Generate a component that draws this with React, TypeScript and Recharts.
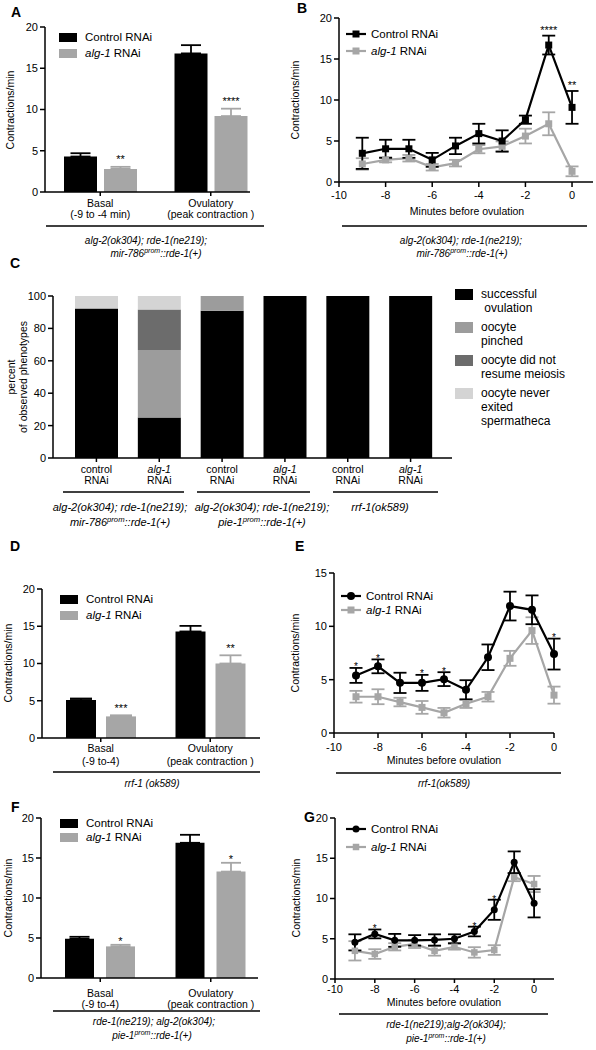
import React from 'react';
import { BarChart, Bar, LineChart, Line, XAxis, YAxis, ErrorBar, LabelList, Legend } from 'recharts';

const FONT = '"Liberation Sans", Arial, Helvetica, sans-serif';
const BLACK = '#000000';
const GRAY = '#a6a6a6';
const AXIS = { stroke: BLACK, strokeWidth: 1.5 };

const seriesNames = ['Control RNAi', 'alg-1 RNAi'];

// A: contraction rate, alg-2; rde-1; mir-786 rescue
const aCategories = ['Basal\n(-9 to -4 min)', 'Ovulatory\n(peak contraction )'];
const aControl = [4.3, 16.8];
const aControlSem = [0.4, 1.0];
const aAlg1 = [2.8, 9.2];
const aAlg1Sem = [0.25, 0.9];
const aStars = ['**', '****'];

// B: per-minute contractions before ovulation
const minutes = [-9, -8, -7, -6, -5, -4, -3, -2, -1, 0];
const minuteTicks = [-10, -8, -6, -4, -2, 0];
const bControl = [3.5, 4.05, 4.05, 2.7, 4.4, 5.9, 5.0, 7.6, 16.7, 9.1];
const bControlSem = [1.9, 1.1, 1.1, 0.85, 1.0, 1.2, 1.3, 0.5, 1.15, 2.0];
const bAlg1 = [2.2, 2.7, 2.9, 1.8, 2.3, 4.0, 4.35, 5.6, 7.1, 1.3];
const bAlg1Sem = [0.7, 0.3, 0.4, 0.4, 0.4, 0.5, 0.6, 0.9, 1.4, 0.6];
const bStars = ['', '', '', '', '', '', '', '', '****', '**'];

// C: phenotype percentages
const cLabels = ['control RNAi', 'alg-1 RNAi', 'control RNAi', 'alg-1 RNAi', 'control RNAi', 'alg-1 RNAi'];
const cPhenotypes = ['successful\n ovulation', 'oocyte\npinched', 'oocyte did not\nresume meiosis', 'oocyte never\nexited\nspermatheca'];
const cColors = ['#000000', '#9c9c9c', '#6c6c6c', '#d4d4d4'];
const cSuccessful = [92.3, 25.0, 90.9, 100, 100, 100];
const cPinched = [0, 41.7, 9.1, 0, 0, 0];
const cNoMeiosis = [0, 25.0, 0, 0, 0, 0];
const cNeverExited = [7.7, 8.3, 0, 0, 0, 0];

// D: rrf-1 bars
const dCategories = ['Basal\n(-9 to-4)', 'Ovulatory\n(peak contraction )'];
const dControl = [5.1, 14.3];
const dControlSem = [0.2, 0.75];
const dAlg1 = [2.9, 10.0];
const dAlg1Sem = [0.15, 1.1];
const dStars = ['***', '**'];

// E: rrf-1 time course
const eControl = [5.4, 6.25, 4.7, 4.7, 5.05, 4.05, 7.1, 11.9, 11.55, 7.4];
const eControlSem = [0.7, 0.65, 0.95, 0.75, 0.65, 0.9, 1.2, 1.35, 1.35, 1.45];
const eAlg1 = [3.4, 3.4, 2.9, 2.4, 1.9, 2.75, 3.4, 7.0, 9.6, 3.55];
const eAlg1Sem = [0.55, 0.7, 0.4, 0.6, 0.45, 0.4, 0.45, 0.7, 1.25, 0.8];
const eStars = ['*', '*', '', '*', '*', '', '', '', '', '*'];

// F: pie-1 rescue bars
const fCategories = ['Basal\n(-9 to-4)', 'Ovulatory\n(peak contraction )'];
const fControl = [4.9, 16.9];
const fControlSem = [0.25, 1.0];
const fAlg1 = [3.95, 13.3];
const fAlg1Sem = [0.2, 1.1];
const fStars = ['*', '*'];

// G: pie-1 rescue time course
const gControl = [4.55, 5.6, 4.8, 4.8, 4.85, 5.0, 5.9, 8.6, 14.5, 9.4];
const gControlSem = [1.0, 0.55, 0.8, 0.65, 0.7, 0.55, 0.6, 1.25, 1.35, 1.75];
const gAlg1 = [3.5, 3.1, 4.0, 4.35, 3.5, 4.0, 3.3, 3.6, 12.65, 11.8];
const gAlg1Sem = [1.2, 0.6, 0.45, 0.5, 0.6, 0.35, 0.65, 0.6, 0.5, 1.0];
const gStars = ['', '*', '', '', '', '', '*', '*', '', ''];

type Frame = { x0: number; x1: number; yTop: number; yBot: number };
const Y_W = 50;
const TOP = 12;
const X_H = 50;

// container box so that the plot area lands on the frame
function place(f: Frame, right = 14) {
  return {
    left: f.x0 - Y_W,
    top: f.yTop - TOP,
    width: f.x1 - f.x0 + Y_W + right,
    height: f.yBot - f.yTop + TOP + X_H,
    margin: { top: TOP, right, bottom: 0, left: 0 },
  };
}

function starLabel(sem: number[], ppu: number, dy: number, size: number) {
  return (props: any) => {
    const { value, index } = props;
    if (!value) return null;
    const vb = props.viewBox ?? props;
    const x = vb.x + (vb.width ?? 0) / 2;
    const y = vb.y - sem[index] * ppu + dy;
    return (
      <text key={`star-${index}`} x={x} y={y} textAnchor="middle" fontSize={size} fill={BLACK} stroke="none">
        {value}
      </text>
    );
  };
}

function SeriesName({ name }: { name: string }) {
  if (name.startsWith('alg-1')) {
    return (
      <span>
        <i>alg-1</i>
        {name.slice(5)}
      </span>
    );
  }
  return <span>{name}</span>;
}

function SwatchKey({ items, rowH }: { items: { name: string; color: string }[]; rowH: number }) {
  return (
    <div style={{ fontSize: 11.5, color: BLACK, textAlign: 'left' }}>
      {items.map((it) => (
        <div key={it.name} style={{ display: 'flex', alignItems: 'center', height: rowH }}>
          <span style={{ width: 18, height: 9, background: it.color, marginRight: 8, flex: 'none' }} />
          <SeriesName name={it.name} />
        </div>
      ))}
    </div>
  );
}

type Marker = { color: string; shape: 'square' | 'circle'; size: number };

function MarkerShape({ cx, cy, m }: { cx: number; cy: number; m: Marker }) {
  if (m.shape === 'circle') return <circle cx={cx} cy={cy} r={m.size / 2} fill={m.color} />;
  return <rect x={cx - m.size / 2} y={cy - m.size / 2} width={m.size} height={m.size} fill={m.color} />;
}

function markerDot(m: Marker) {
  return (p: any) => {
    if (p.cx == null || p.cy == null) return <g key={`d-${p.index}`} />;
    return (
      <g key={`d-${p.index}`}>
        <MarkerShape cx={p.cx} cy={p.cy} m={m} />
      </g>
    );
  };
}

function LineKey({ items, rowH }: { items: { name: string; marker: Marker }[]; rowH: number }) {
  return (
    <div style={{ fontSize: 11.5, color: BLACK, textAlign: 'left' }}>
      {items.map((it) => (
        <div key={it.name} style={{ display: 'flex', alignItems: 'center', height: rowH }}>
          <svg width={20} height={10} style={{ marginRight: 5, flex: 'none' }}>
            <line x1={0} x2={20} y1={5} y2={5} stroke={it.marker.color} strokeWidth={2.2} />
            <MarkerShape cx={10} cy={5} m={it.marker} />
          </svg>
          <SeriesName name={it.name} />
        </div>
      ))}
    </div>
  );
}

function CategoryTick(props: any) {
  const { x, y, payload, first, gap } = props;
  const lines = String(payload.value).split('\n');
  return (
    <text x={x} y={y} textAnchor="middle" fontSize={10.5} fill={BLACK}>
      {lines.map((line, i) => (
        <tspan key={i} x={x} dy={i === 0 ? first : gap}>
          {line}
        </tspan>
      ))}
    </text>
  );
}

function RnaiTick(props: any) {
  const { x, y, payload } = props;
  const label = String(payload.value);
  const cut = label.lastIndexOf(' ');
  const head = label.slice(0, cut);
  const tail = label.slice(cut + 1);
  return (
    <text x={x} y={y} textAnchor="middle" fontSize={10.5} fill={BLACK}>
      <tspan x={x} dy={11} fontStyle={head === 'alg-1' ? 'italic' : 'normal'}>
        {head}
      </tspan>
      <tspan x={x} dy={11}>
        {tail}
      </tspan>
    </text>
  );
}

interface BarPanelProps {
  frame: Frame;
  cats: string[];
  ctrl: number[];
  ctrlSem: number[];
  alg: number[];
  algSem: number[];
  stars: string[];
  barSize: number;
  barGap: number;
  pad: { left: number; right: number };
  tickFirst: number;
  tickGap: number;
  starDy: number;
  capW: number;
  legend: { x: number; y: number; rowH: number };
}

function BarPanel(p: BarPanelProps) {
  const box = place(p.frame);
  const ppu = (p.frame.yBot - p.frame.yTop) / 20;
  const data = p.cats.map((cat, i) => ({
    cat,
    ctrl: p.ctrl[i],
    ctrlErr: [0, p.ctrlSem[i]],
    alg: p.alg[i],
    algErr: [0, p.algSem[i]],
    sig: p.stars[i],
  }));
  return (
    <div style={{ position: 'absolute', left: box.left, top: box.top }}>
      <BarChart width={box.width} height={box.height} margin={box.margin} data={data} barSize={p.barSize} barGap={p.barGap}>
        <XAxis
          dataKey="cat"
          type="category"
          interval={0}
          padding={p.pad}
          height={X_H}
          tickSize={4}
          tickMargin={0}
          axisLine={AXIS}
          tickLine={AXIS}
          tick={(t: any) => <CategoryTick {...t} first={p.tickFirst} gap={p.tickGap} />}
        />
        <YAxis
          type="number"
          domain={[0, 20]}
          ticks={[0, 5, 10, 15, 20]}
          interval={0}
          width={Y_W}
          tickSize={5}
          tickMargin={2}
          axisLine={AXIS}
          tickLine={AXIS}
          tick={{ fill: BLACK, fontSize: 11 }}
        />
        <Bar dataKey="ctrl" name={seriesNames[0]} fill={BLACK} isAnimationActive={false}>
          <ErrorBar dataKey="ctrlErr" direction="y" width={p.capW} stroke={BLACK} strokeWidth={1.8} isAnimationActive={false} />
        </Bar>
        <Bar dataKey="alg" name={seriesNames[1]} fill={GRAY} isAnimationActive={false}>
          <ErrorBar dataKey="algErr" direction="y" width={p.capW} stroke={GRAY} strokeWidth={1.8} isAnimationActive={false} />
          <LabelList dataKey="sig" content={starLabel(p.algSem, ppu, p.starDy, 11)} />
        </Bar>
        <Legend
          layout="vertical"
          align="center"
          verticalAlign="middle"
          wrapperStyle={{ left: p.legend.x - box.left, top: p.legend.y - p.legend.rowH / 2 - box.top, width: 130 }}
          content={() => (
            <SwatchKey
              items={[
                { name: seriesNames[0], color: BLACK },
                { name: seriesNames[1], color: GRAY },
              ]}
              rowH={p.legend.rowH}
            />
          )}
        />
      </BarChart>
    </div>
  );
}

interface LinePanelProps {
  frame: Frame;
  xMax: number;
  yMax: number;
  yTicks: number[];
  ctrl: number[];
  ctrlSem: number[];
  alg: number[];
  algSem: number[];
  stars: string[];
  ctrlMarker: Marker;
  algMarker: Marker;
  tickMargin: number;
  tickSize: number;
  starDy: number;
  starSize: number;
  legend: { x: number; y: number; rowH: number };
}

function LinePanel(p: LinePanelProps) {
  const box = place(p.frame);
  const ppu = (p.frame.yBot - p.frame.yTop) / p.yMax;
  const data = minutes.map((t, i) => ({
    t,
    ctrl: p.ctrl[i],
    ctrlErr: p.ctrlSem[i],
    alg: p.alg[i],
    algErr: p.algSem[i],
    sig: p.stars[i],
  }));
  return (
    <div style={{ position: 'absolute', left: box.left, top: box.top }}>
      <LineChart width={box.width} height={box.height} margin={box.margin} data={data}>
        <XAxis
          dataKey="t"
          type="number"
          domain={[-10, p.xMax]}
          ticks={minuteTicks}
          interval={0}
          height={X_H}
          tickSize={p.tickSize}
          tickMargin={p.tickMargin}
          axisLine={AXIS}
          tickLine={AXIS}
          tick={{ fill: BLACK, fontSize: 11 }}
        />
        <YAxis
          type="number"
          domain={[0, p.yMax]}
          ticks={p.yTicks}
          interval={0}
          width={Y_W}
          tickSize={5}
          tickMargin={2}
          axisLine={AXIS}
          tickLine={AXIS}
          tick={{ fill: BLACK, fontSize: 11 }}
        />
        <Line
          type="linear"
          dataKey="alg"
          name={seriesNames[1]}
          stroke={GRAY}
          strokeWidth={2.2}
          dot={markerDot(p.algMarker)}
          isAnimationActive={false}
        >
          <ErrorBar dataKey="algErr" direction="y" width={6.5} stroke={GRAY} strokeWidth={1.8} isAnimationActive={false} />
        </Line>
        <Line
          type="linear"
          dataKey="ctrl"
          name={seriesNames[0]}
          stroke={BLACK}
          strokeWidth={2.2}
          dot={markerDot(p.ctrlMarker)}
          isAnimationActive={false}
        >
          <ErrorBar dataKey="ctrlErr" direction="y" width={6.5} stroke={BLACK} strokeWidth={1.8} isAnimationActive={false} />
          <LabelList dataKey="sig" content={starLabel(p.ctrlSem, ppu, p.starDy, p.starSize)} />
        </Line>
        <Legend
          layout="vertical"
          align="center"
          verticalAlign="middle"
          wrapperStyle={{ left: p.legend.x - box.left, top: p.legend.y - p.legend.rowH / 2 - box.top, width: 130 }}
          content={() => (
            <LineKey
              items={[
                { name: seriesNames[0], marker: p.ctrlMarker },
                { name: seriesNames[1], marker: p.algMarker },
              ]}
              rowH={p.legend.rowH}
            />
          )}
        />
      </LineChart>
    </div>
  );
}

function PhenotypePanel() {
  const f: Frame = { x0: 53, x1: 452, yTop: 296, yBot: 458 };
  const box = place(f, 140);
  const data = cLabels.map((label, i) => ({
    label,
    s: cSuccessful[i],
    p: cPinched[i],
    m: cNoMeiosis[i],
    e: cNeverExited[i],
  }));
  const keys = ['s', 'p', 'm', 'e'];
  return (
    <div style={{ position: 'absolute', left: box.left, top: box.top }}>
      <BarChart width={box.width} height={box.height} margin={box.margin} data={data} barSize={43}>
        <XAxis
          dataKey="label"
          type="category"
          interval={0}
          allowDuplicatedCategory
          padding={{ left: 12, right: 10 }}
          height={X_H}
          tickSize={4}
          tickMargin={0}
          axisLine={AXIS}
          tickLine={AXIS}
          tick={(t: any) => <RnaiTick {...t} />}
        />
        <YAxis
          type="number"
          domain={[0, 100]}
          ticks={[0, 20, 40, 60, 80, 100]}
          interval={0}
          width={Y_W}
          tickSize={5}
          tickMargin={2}
          axisLine={AXIS}
          tickLine={AXIS}
          tick={{ fill: BLACK, fontSize: 11 }}
        />
        {keys.map((k, i) => (
          <Bar key={k} dataKey={k} stackId="ph" name={cPhenotypes[i]} fill={cColors[i]} isAnimationActive={false} />
        ))}
        <Legend
          layout="vertical"
          align="center"
          verticalAlign="middle"
          wrapperStyle={{ left: 455 - box.left, top: 287 - box.top, width: 140 }}
          content={() => (
            <div style={{ fontSize: 12, lineHeight: '14px', color: BLACK, textAlign: 'left' }}>
              {cPhenotypes.map((name, i) => (
                <div key={name} style={{ display: 'flex', marginBottom: 5 }}>
                  <span style={{ width: 18, height: 11, marginTop: 1.5, marginRight: 8, background: cColors[i], flex: 'none' }} />
                  <div>
                    {name.split('\n').map((line, j) => (
                      <div key={j} style={{ whiteSpace: 'pre' }}>
                        {line}
                      </div>
                    ))}
                  </div>
                </div>
              ))}
            </div>
          )}
        />
      </BarChart>
    </div>
  );
}

function Geno({ text, x, y, size = 10 }: { text: string; x: number; y: number; size?: number }) {
  const parts = text.split('^');
  return (
    <text x={x} y={y} textAnchor="middle" fontSize={size} fontStyle="italic" fill={BLACK}>
      {parts.map((part, i) =>
        i % 2 === 1 ? (
          <tspan key={i} fontSize={size * 0.7} dy={-4}>
            {part}
          </tspan>
        ) : (
          <tspan key={i} dy={i === 0 ? 0 : 4}>
            {part}
          </tspan>
        )
      )}
    </text>
  );
}

function YLabel({ text, x, y }: { text: string; x: number; y: number }) {
  return (
    <text x={x} y={y} transform={`rotate(-90 ${x} ${y})`} textAnchor="middle" fontSize={10.5} fill={BLACK}>
      {text}
    </text>
  );
}

function Annotations() {
  const letters: [string, number, number][] = [
    ['A', 11, 17],
    ['B', 297, 13],
    ['C', 10, 268],
    ['D', 10, 551],
    ['E', 295, 551],
    ['F', 11, 812],
    ['G', 304, 822],
  ];
  const rules: [number, number, number][] = [
    [46, 264, 226],
    [342, 587, 226],
    [63, 184, 492],
    [197, 310, 492],
    [333, 438, 492],
    [53, 260, 772],
    [336, 561, 773],
    [53, 260, 1011],
    [339, 548, 1014],
  ];
  return (
    <svg width={596} height={1050} style={{ position: 'absolute', left: 0, top: 0, pointerEvents: 'none' }}>
      {letters.map(([t, x, y]) => (
        <text key={t} x={x} y={y} fontSize={14} fontWeight="bold" fill={BLACK}>
          {t}
        </text>
      ))}
      {rules.map(([x1, x2, y], i) => (
        <line key={i} x1={x1} x2={x2} y1={y} y2={y} stroke={BLACK} strokeWidth={1.5} />
      ))}
      <YLabel text="Contractions/min" x={14} y={110} />
      <YLabel text="Contractions/min" x={299} y={100} />
      <YLabel text="percent" x={15} y={377} />
      <YLabel text="of observed phenotypes" x={27} y={377} />
      <YLabel text="Contractions/min" x={12} y={663} />
      <YLabel text="Contractions/min" x={299} y={653} />
      <YLabel text="Contractions/min" x={12} y={898} />
      <YLabel text="Contractions/min" x={300} y={898} />
      {[
        [467, 215],
        [444, 764],
        [444, 1006],
      ].map(([x, y]) => (
        <text key={y} x={x} y={y} textAnchor="middle" fontSize={10.5} fill={BLACK}>
          Minutes before ovulation
        </text>
      ))}
      <Geno text="alg-2(ok304); rde-1(ne219);" x={146} y={244} />
      <Geno text="mir-786^prom^::rde-1(+)" x={156} y={257} />
      <Geno text="alg-2(ok304); rde-1(ne219);" x={461} y={244} />
      <Geno text="mir-786^prom^::rde-1(+)" x={462} y={257} />
      <Geno text="alg-2(ok304); rde-1(ne219);" x={120} y={511} size={11} />
      <Geno text="mir-786^prom^::rde-1(+)" x={120} y={526} size={11} />
      <Geno text="alg-2(ok304); rde-1(ne219);" x={262} y={511} size={11} />
      <Geno text="pie-1^prom^::rde-1(+)" x={262} y={526} size={11} />
      <Geno text="rrf-1(ok589)" x={380} y={511} size={11} />
      <Geno text="rrf-1 (ok589)" x={152} y={787} />
      <Geno text="rrf-1(ok589)" x={444} y={787} />
      <Geno text="rde-1(ne219); alg-2(ok304);" x={154} y={1025} />
      <Geno text="pie-1^prom^::rde-1(+)" x={152} y={1039} />
      <Geno text="rde-1(ne219);alg-2(ok304);" x={446} y={1028} />
      <Geno text="pie-1^prom^::rde-1(+)" x={446} y={1042} />
    </svg>
  );
}

const circle = (color: string, size: number): Marker => ({ color, shape: 'circle', size });
const square = (color: string, size: number): Marker => ({ color, shape: 'square', size });

export default function App() {
  return (
    <div
      style={{
        position: 'absolute',
        left: 0,
        top: 0,
        width: 596,
        height: 1050,
        background: '#fff',
        fontFamily: FONT,
        color: BLACK,
        overflow: 'hidden',
      }}
    >
      <BarPanel
        frame={{ x0: 45, x1: 250, yTop: 27, yBot: 192 }}
        cats={aCategories}
        ctrl={aControl}
        ctrlSem={aControlSem}
        alg={aAlg1}
        algSem={aAlg1Sem}
        stars={aStars}
        barSize={33}
        barGap={7}
        pad={{ left: 0, right: -16 }}
        tickFirst={11}
        tickGap={10.5}
        starDy={-3.5}
        capW={10}
        legend={{ x: 59, y: 37, rowH: 16 }}
      />
      <LinePanel
        frame={{ x0: 339, x1: 593, yTop: 18, yBot: 182 }}
        xMax={0.9}
        yMax={20}
        yTicks={[0, 5, 10, 15, 20]}
        ctrl={bControl}
        ctrlSem={bControlSem}
        alg={bAlg1}
        algSem={bAlg1Sem}
        stars={bStars}
        ctrlMarker={square(BLACK, 7)}
        algMarker={square(GRAY, 7)}
        tickSize={5}
        tickMargin={4}
        starDy={-2}
        starSize={11}
        legend={{ x: 346, y: 34, rowH: 17 }}
      />
      <PhenotypePanel />
      <BarPanel
        frame={{ x0: 42, x1: 260, yTop: 589, yBot: 738 }}
        cats={dCategories}
        ctrl={dControl}
        ctrlSem={dControlSem}
        alg={dAlg1}
        algSem={dAlg1Sem}
        stars={dStars}
        barSize={30}
        barGap={10}
        pad={{ left: 4, right: -5 }}
        tickFirst={10}
        tickGap={13}
        starDy={-3}
        capW={11}
        legend={{ x: 60, y: 599, rowH: 16 }}
      />
      <LinePanel
        frame={{ x0: 334, x1: 554, yTop: 573, yBot: 733 }}
        xMax={0}
        yMax={15}
        yTicks={[0, 5, 10, 15]}
        ctrl={eControl}
        ctrlSem={eControlSem}
        alg={eAlg1}
        algSem={eAlg1Sem}
        stars={eStars}
        ctrlMarker={circle(BLACK, 8)}
        algMarker={square(GRAY, 7)}
        tickSize={5}
        tickMargin={5}
        starDy={2.5}
        starSize={10}
        legend={{ x: 341, y: 596, rowH: 14 }}
      />
      <BarPanel
        frame={{ x0: 41, x1: 258, yTop: 818, yBot: 978 }}
        cats={fCategories}
        ctrl={fControl}
        ctrlSem={fControlSem}
        alg={fAlg1}
        algSem={fAlg1Sem}
        stars={fStars}
        barSize={29}
        barGap={12}
        pad={{ left: 4, right: -8 }}
        tickFirst={15}
        tickGap={11}
        starDy={0}
        capW={10}
        legend={{ x: 60, y: 823, rowH: 14 }}
      />
      <LinePanel
        frame={{ x0: 335, x1: 554, yTop: 818, yBot: 979 }}
        xMax={1}
        yMax={20}
        yTicks={[0, 5, 10, 15, 20]}
        ctrl={gControl}
        ctrlSem={gControlSem}
        alg={gAlg1}
        algSem={gAlg1Sem}
        stars={gStars}
        ctrlMarker={circle(BLACK, 7)}
        algMarker={square(GRAY, 6.5)}
        tickSize={4}
        tickMargin={2}
        starDy={3}
        starSize={10}
        legend={{ x: 346, y: 829, rowH: 18 }}
      />
      <Annotations />
    </div>
  );
}
